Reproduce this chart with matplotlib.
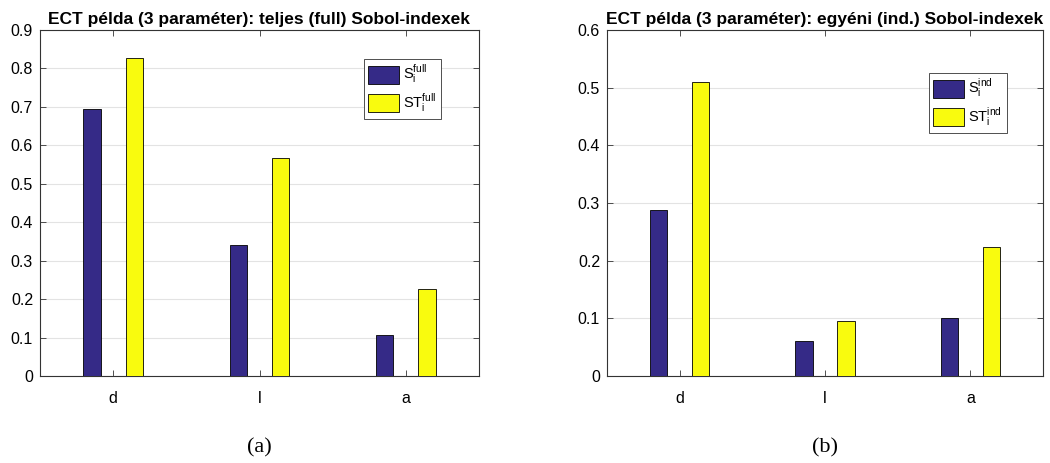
import numpy as np
import matplotlib.pyplot as plt

params = ['d', 'l', 'a']
s_full = [0.694, 0.340, 0.107]
st_full = [0.826, 0.568, 0.227]
s_ind = [0.287, 0.060, 0.101]
st_ind = [0.509, 0.095, 0.223]

blue = '#352a87'
yellow = '#f9fb0e'

plt.rcParams['font.family'] = ['Liberation Sans', 'DejaVu Sans']
plt.rcParams['mathtext.fontset'] = 'custom'
plt.rcParams['mathtext.rm'] = 'Liberation Sans'

fig = plt.figure(figsize=(10.5, 4.63), dpi=100)
ax1 = fig.add_axes([40 / 1050, 1 - 376 / 463, 439 / 1050, 346 / 463])
ax2 = fig.add_axes([607 / 1050, 1 - 376 / 463, 436 / 1050, 346 / 463])


def sobol_panel(ax, s, st, ymax, title, sup, sub, leg_anchor):
    x = np.arange(1, len(params) + 1)
    w = 0.12
    ax.bar(x - 0.145, s, w, color=blue, edgecolor='black', linewidth=0.6,
           label=r'S$_\mathrm{i}^\mathrm{%s}$' % sup, zorder=3)
    ax.bar(x + 0.145, st, w, color=yellow, edgecolor='black', linewidth=0.6,
           label=r'ST$_\mathrm{i}^\mathrm{%s}$' % sup, zorder=3)
    ax.set_xlim(0.5, 3.5)
    ax.set_ylim(0, ymax)
    yt = np.arange(0, ymax + 0.001, 0.1)
    ax.set_yticks(yt)
    ax.set_yticklabels(['0' if v == 0 else '%.1f' % v for v in yt])
    ax.set_xticks(x)
    ax.set_xticklabels(params)
    ax.grid(axis='y', color='#e3e3e3', linewidth=0.8, zorder=0)
    ax.tick_params(direction='in', top=True, right=True, labelsize=11.5, length=4,
                   width=0.6, color='#333333')
    ax.tick_params(axis='x', pad=11)
    ax.tick_params(axis='y', pad=5)
    for sp in ax.spines.values():
        sp.set_linewidth(0.8)
        sp.set_color('#333333')
    ax.set_title(title, fontsize=12.5, fontweight='bold', pad=4)
    leg = ax.legend(loc='upper left', bbox_to_anchor=leg_anchor, fontsize=10.5,
                    fancybox=False, edgecolor='#333333', framealpha=1,
                    handlelength=2.1, handleheight=1.55, handletextpad=0.3,
                    borderpad=0.3, labelspacing=0.35, borderaxespad=0)
    leg.get_frame().set_linewidth(0.6)
    ax.text(0.5, -0.208, sub, transform=ax.transAxes, ha='center', va='center',
            fontsize=16, family='Liberation Serif')


sobol_panel(ax1, s_full, st_full, 0.9,
            'ECT példa (3 paraméter): teljes (full) Sobol-indexek',
            'full', '(a)', (324 / 439, 1 - 29 / 346))
sobol_panel(ax2, s_ind, st_ind, 0.6,
            'ECT példa (3 paraméter): egyéni (ind.) Sobol-indexek',
            'ind', '(b)', (322 / 436, 1 - 43 / 346))

fig.savefig('out.png', dpi=100)
